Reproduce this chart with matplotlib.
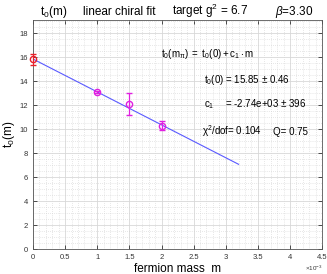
import numpy as np
import matplotlib
matplotlib.use('Agg')
import matplotlib.pyplot as plt
from matplotlib.ticker import MultipleLocator

plt.rcParams['font.family'] = ['Liberation Sans', 'DejaVu Sans']
plt.rcParams['mathtext.fontset'] = 'custom'
plt.rcParams['mathtext.rm'] = 'Liberation Sans'
plt.rcParams['mathtext.it'] = 'Liberation Sans:italic'

# data
mass = [0.0, 1.0e-3, 1.5e-3, 2.0e-3]
t0 = [15.85, 13.1, 12.1, 10.3]
t0_err = [0.46, 0.12, 0.9, 0.35]
pt_colors = ['#e8202a', '#e020e0', '#e020e0', '#e020e0']

# fit
fit_t0 = 15.85
fit_c1 = -2.74e3
fit_range = [0.0, 3.2e-3]

fig = plt.figure(figsize=(3.27, 2.74), dpi=100)
ax = fig.add_axes([0.101, 0.09, 0.884, 0.837])

xf = np.array(fit_range)
ax.plot(xf, fit_t0 + fit_c1 * xf, color='#5a5aff', lw=0.8, zorder=2)

for xi, yi, ei, c in zip(mass, t0, t0_err, pt_colors):
    eb = ax.errorbar(xi, yi, yerr=ei, fmt='o', color=c, mfc='none', ms=4.5, mew=1.0,
                     elinewidth=0.9, capsize=2.2, capthick=0.9, zorder=3)
    for a in eb.get_children():
        a.set_clip_on(False)

ax.set_xlim(0, 4.5e-3)
ax.set_ylim(0, 19.1)
ax.set_xticks(np.arange(0, 4.51e-3, 0.5e-3))
ax.set_xticklabels(['0', '0.5', '1', '1.5', '2', '2.5', '3', '3.5', '4', '4.5'])
ax.set_yticks(np.arange(0, 19, 2))
ax.xaxis.set_minor_locator(MultipleLocator(0.1e-3))
ax.yaxis.set_minor_locator(MultipleLocator(0.5))
ax.grid(True, which='major', color='#d8d8d8', lw=0.6, ls='-')
ax.grid(True, which='minor', color='#d0d0d0', lw=0.5, ls=(0, (1, 2)))
ax.tick_params(which='both', direction='in', labelsize=5.5, length=3, width=0.6,
               top=True, right=True, colors='#333333')
ax.tick_params(which='minor', length=0)
for s in ax.spines.values():
    s.set_color('#555555')
    s.set_linewidth(0.6)

ax.set_xlabel('fermion mass  m', fontsize=8.5, labelpad=1)
ax.set_ylabel(r'$\mathregular{t_0(m)}$', fontsize=8.5, labelpad=2)
fig.text(0.985, 0.012, r'$\times\mathregular{10^{-3}}$', fontsize=4.5, color='#333333',
         ha='right')

fig.text(0.122, 0.945, r'$\mathregular{t_0(m)}$', fontsize=8.5)
fig.text(0.254, 0.945, 'linear chiral fit', fontsize=8.5)
fig.text(0.526, 0.945, r'target $\mathregular{g^2}$ = 6.7', fontsize=8.5)
fig.text(0.84, 0.945, r'$\it{\beta}$=3.30', fontsize=8.5)

tk = dict(fontsize=7, transform=fig.transFigure)
ax.text(0.493, 0.792, r'$\mathregular{t_0(m_\pi)\ =\ t_0(0) + c_1\cdot m}$', **tk)
ax.text(0.624, 0.697, r'$\mathregular{t_0(0)}$ = 15.85 $\pm$ 0.46', **tk)
ax.text(0.624, 0.609, r'$\mathregular{c_1}$', **tk)
ax.text(0.688, 0.609, r'= -2.74e+03 $\pm$ 396', **tk)
ax.text(0.618, 0.507, r'$\mathregular{\chi^2}$/dof= 0.104', **tk)
ax.text(0.835, 0.507, 'Q= 0.75', **tk)

fig.savefig('out.png', dpi=100)
